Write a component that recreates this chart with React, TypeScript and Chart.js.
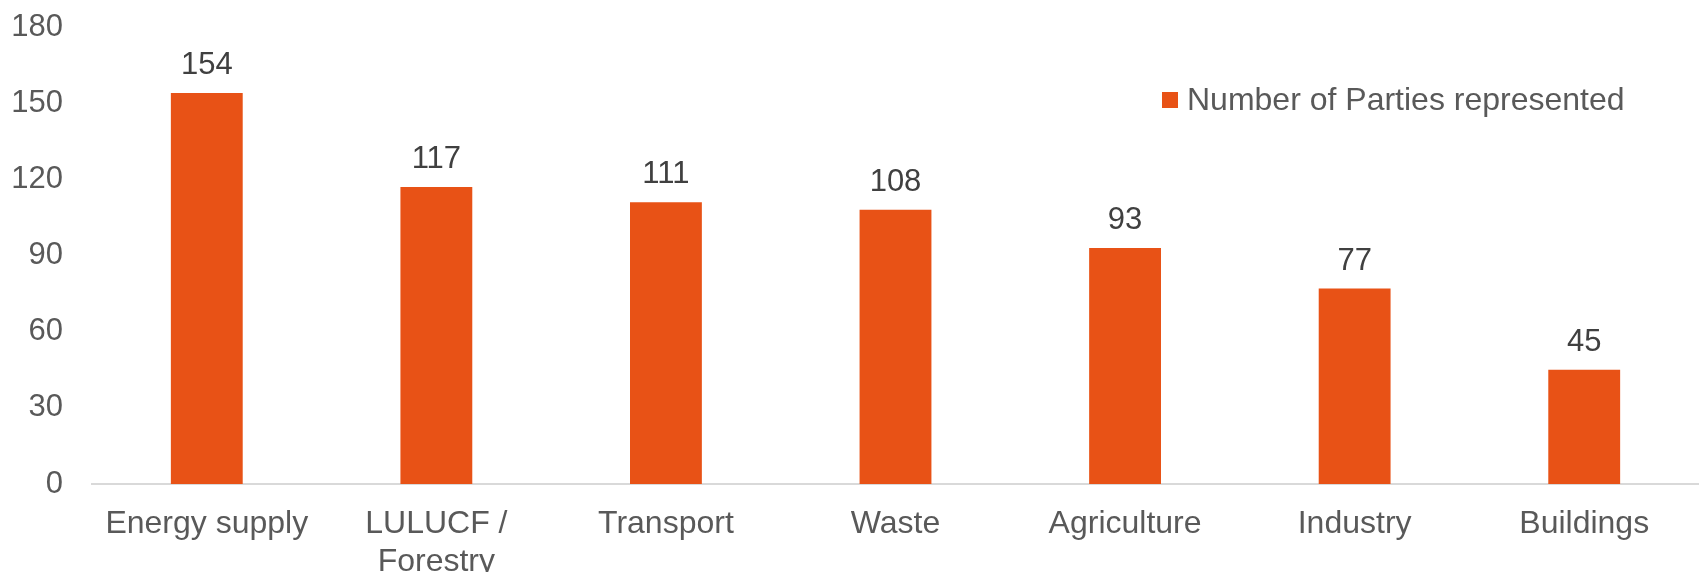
import React, { useEffect, useRef } from "react";
import { Chart, registerables } from "chart.js";

Chart.register(...registerables);

const categories: (string | string[])[] = [
  "Energy supply",
  ["LULUCF /", "Forestry"],
  "Transport",
  "Waste",
  "Agriculture",
  "Industry",
  "Buildings",
];
const partiesRepresented = [154, 117, 111, 108, 93, 77, 45];
const seriesLabel = "Number of Parties represented";
const yMin = 0;
const yMax = 180;
const yStep = 30;

const BAR_COLOR = "#E85216";
const FONT = "'Liberation Sans', Arial, sans-serif";

const valueLabels = {
  id: "valueLabels",
  afterDatasetsDraw(chart: any) {
    const ctx = chart.ctx;
    ctx.save();
    ctx.font = `31px ${FONT}`;
    ctx.fillStyle = "#404040";
    ctx.textAlign = "center";
    ctx.textBaseline = "alphabetic";
    chart.data.datasets.forEach((ds: any, i: number) => {
      const meta = chart.getDatasetMeta(i);
      meta.data.forEach((bar: any, j: number) => {
        ctx.fillText(String(ds.data[j]), bar.x, bar.y - 19);
      });
    });
    ctx.restore();
  },
};

const customLegend = {
  id: "customLegend",
  afterDraw(chart: any) {
    const ctx = chart.ctx;
    const area = chart.chartArea;
    const ds = chart.data.datasets[0];
    const bx = area.right - 537;
    const by = area.top + 65;
    ctx.save();
    ctx.fillStyle = ds.backgroundColor;
    ctx.fillRect(bx, by, 16, 16);
    ctx.font = `32px ${FONT}`;
    ctx.fillStyle = "#595959";
    ctx.textAlign = "left";
    ctx.textBaseline = "middle";
    ctx.fillText(ds.label, bx + 25, by + 9);
    ctx.restore();
  },
};

export default function App() {
  const canvasRef = useRef<HTMLCanvasElement | null>(null);

  useEffect(() => {
    document.body.style.margin = "0";
    const canvas = canvasRef.current;
    if (!canvas) return;
    const chart = new Chart(canvas, {
      type: "bar",
      data: {
        labels: categories as any,
        datasets: [
          {
            label: seriesLabel,
            data: partiesRepresented,
            backgroundColor: BAR_COLOR,
            borderWidth: 0,
            barPercentage: 1,
            categoryPercentage: 0.313,
          },
        ],
      },
      options: {
        animation: false,
        responsive: false,
        devicePixelRatio: 1,
        layout: { padding: { top: 27, right: 0, left: 0, bottom: 0 } },
        plugins: {
          legend: { display: false },
          tooltip: { enabled: false },
        },
        scales: {
          x: {
            grid: { display: false, drawTicks: false },
            border: { display: true, color: "#D9D9D9", width: 2 },
            ticks: {
              color: "#595959",
              font: { family: FONT, size: 32 },
              padding: 21,
              maxRotation: 0,
              autoSkip: false,
            },
            afterFit(scale: any) {
              scale.height = 88;
            },
          },
          y: {
            min: yMin,
            max: yMax,
            grid: { display: false, drawTicks: true, tickLength: 29 },
            border: { display: false },
            ticks: {
              stepSize: yStep,
              color: "#595959",
              font: { family: FONT, size: 31 },
              padding: 0,
            },
            afterFit(scale: any) {
              scale.width = 92;
            },
          },
        },
      },
      plugins: [valueLabels, customLegend],
    });
    return () => chart.destroy();
  }, []);

  return (
    <div style={{ width: 1699, height: 572 }}>
      <canvas ref={canvasRef} width={1699} height={572} style={{ display: "block" }} />
    </div>
  );
}
